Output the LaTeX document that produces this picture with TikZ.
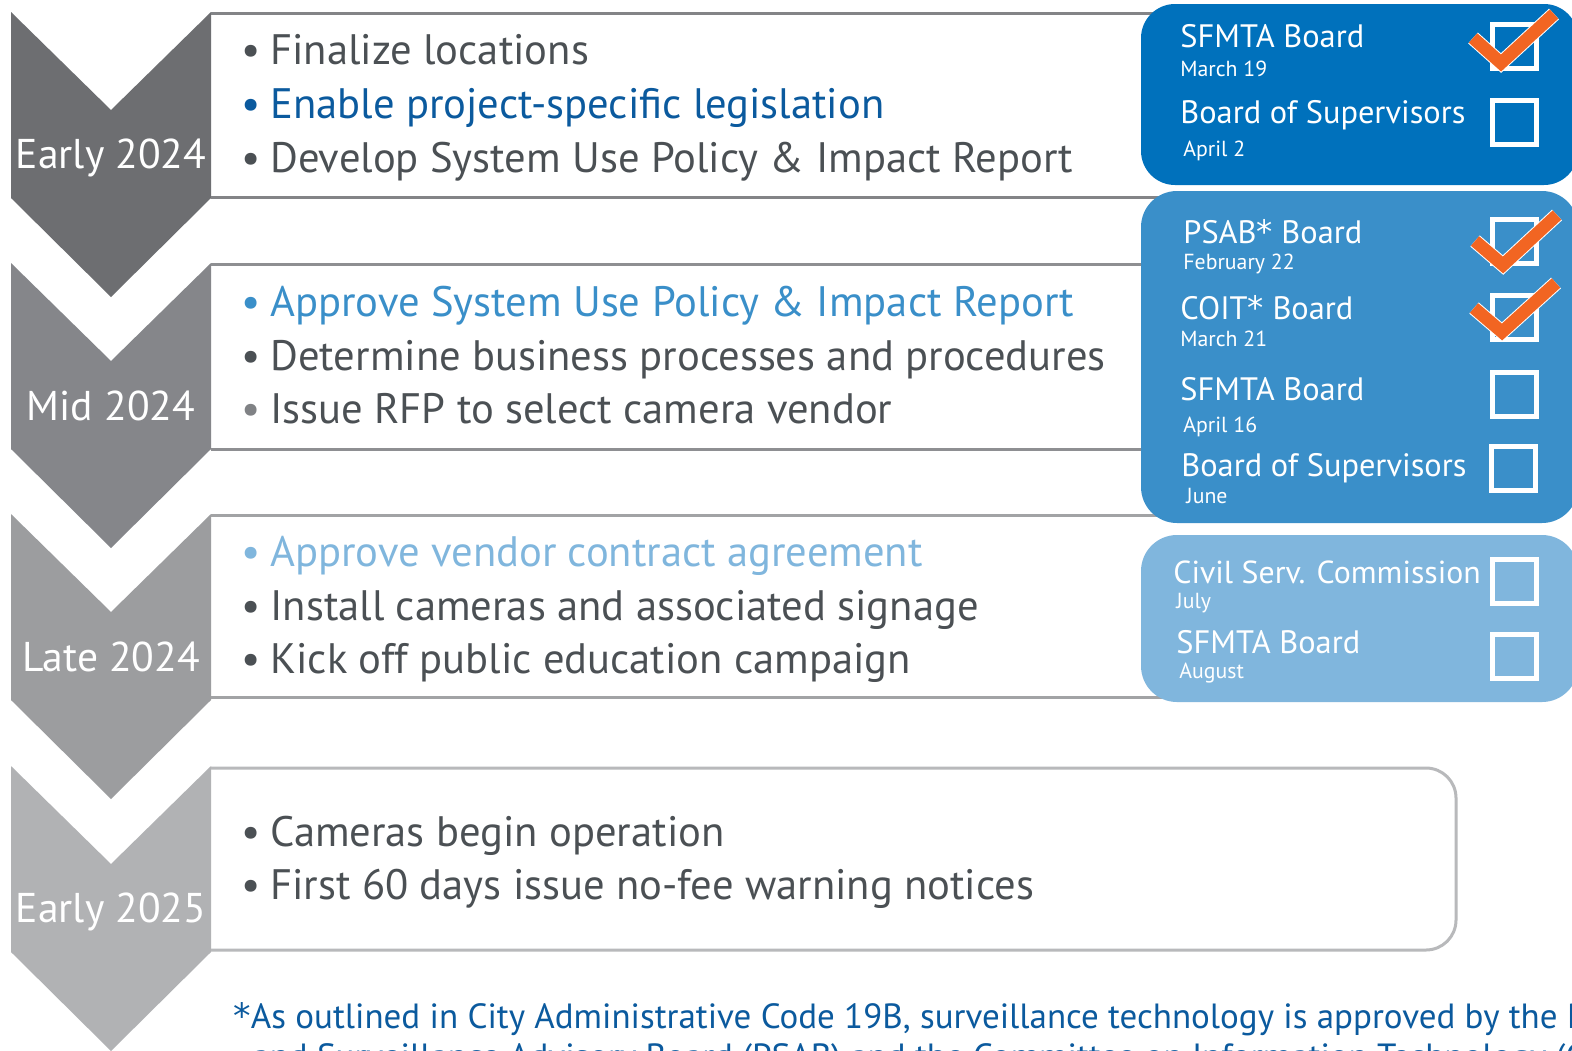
\documentclass[tikz,border=0pt]{standalone}
\usepackage{fontspec}
\setmainfont{PT Sans}
\newfontfamily\astfont{DejaVu Sans}
\definecolor{chevA}{HTML}{6D6E71}
\definecolor{chevB}{HTML}{85868A}
\definecolor{chevC}{HTML}{9C9D9F}
\definecolor{chevD}{HTML}{B1B2B4}
\definecolor{lineA}{HTML}{838487}
\definecolor{lineB}{HTML}{8E8F92}
\definecolor{lineC}{HTML}{A2A3A5}
\definecolor{lineD}{HTML}{B8B9BB}
\definecolor{blueA}{HTML}{0071BC}
\definecolor{blueB}{HTML}{3A8FC9}
\definecolor{blueC}{HTML}{80B6DD}
\definecolor{txtgray}{HTML}{4B5054}
\definecolor{bulgray}{HTML}{808285}
\definecolor{darkblue}{HTML}{0B5A9E}
\definecolor{tickorange}{HTML}{F26522}
\newcommand\bulletof[1]{\makebox[14.5pt][l]{\textcolor{#1}{•}}}
\newcommand\bigast{{\astfont *}}
\begin{document}
\begin{tikzpicture}[x=0.5pt,y=-0.5pt,
  bul/.style={anchor=base west, inner sep=0pt, font=\fontsize{21.3}{25}\selectfont, text=txtgray},
  lab/.style={anchor=base, inner sep=0pt, font=\fontsize{20.8}{25}\selectfont, text=white},
  btitle/.style={anchor=base west, inner sep=0pt, font=\fontsize{16.2}{19}\selectfont, text=white},
  bdate/.style={anchor=base west, inner sep=0pt, font=\fontsize{10.9}{13}\selectfont, text=white},
  cbox/.style={draw=white, line width=2.5pt, minimum size=22pt, inner sep=0pt},
  tick/.style={draw=tickorange, line width=6.3pt, line join=miter, line cap=butt,
    preaction={draw=white, line width=7.3pt, line join=miter, line cap=butt}},
  foot/.style={anchor=base west, inner sep=0pt, text=darkblue, font=\fontsize{17.5}{20}\selectfont},
  boxline/.style={line width=1.5pt}]
\useasboundingbox (0,0) rectangle (1572,1050);
\clip (0,0) rectangle (1572,1050);
\fill[white] (0,0) rectangle (1572,1050);

% chevrons
\foreach \yt/\col in {12/chevA,263/chevB,514/chevC,766/chevD} {
  \fill[\col] (11,\yt) -- (111,\yt+98) -- (211,\yt) -- (211,\yt+186) -- (111,\yt+285) -- (11,\yt+186) -- cycle;
}

% text box outlines
\draw[boxline, draw=lineA] (211,13) -- (1300,13);
\draw[boxline, draw=lineA] (211,197) -- (1300,197);
\draw[boxline, draw=lineB] (211,264) -- (1300,264);
\draw[boxline, draw=lineB] (211,449) -- (1300,449);
\draw[boxline, draw=lineC] (211,515) -- (1300,515);
\draw[boxline, draw=lineC] (211,697) -- (1300,697);
\draw[boxline, draw=lineD, rounded corners=15pt] (211,768) -- (1456,768) -- (1456,950) -- (211,950);

% blue boxes
\fill[blueA, rounded corners=17pt] (1141,4) rectangle (1578,185);
\fill[blueB, rounded corners=18pt] (1141,191) rectangle (1578,523);
\fill[blueC, rounded corners=18pt] (1141,535) rectangle (1578,702);

% chevron labels
\node[lab] (l1) at (111,168) {Early 2024};
\node[lab] (l2) at (111,420) {Mid 2024};
\node[lab] (l3) at (111,671) {Late 2024};
\node[lab] (l4) at (111,922) {Early 2025};

% bullets box 1
\node[bul] (a1) at (241,64) {\bulletof{txtgray}Finalize locations};
\node[bul, text=darkblue] (a2) at (241,118) {\bulletof{darkblue}Enable project-specific legislation};
\node[bul] (a3) at (241,172) {\bulletof{txtgray}Develop System Use Policy \& Impact Report};
% box 2
\node[bul, text=blueB] (b1) at (241,316) {\bulletof{blueB}Approve System Use Policy \& Impact Report};
\node[bul] (b2) at (241,370) {\bulletof{txtgray}Determine business processes and procedures};
\node[bul] (b3) at (241,423) {\bulletof{bulgray}Issue RFP to select camera vendor};
% box 3
\node[bul, text=blueC] (c1) at (241,566) {\bulletof{blueC}Approve vendor contract agreement};
\node[bul] (c2) at (241,620) {\bulletof{txtgray}Install cameras and associated signage};
\node[bul] (c3) at (241,673) {\bulletof{txtgray}Kick off public education campaign};
% box 4
\node[bul] (d1) at (241,846) {\bulletof{txtgray}Cameras begin operation};
\node[bul] (d2) at (241,899) {\bulletof{txtgray}First 60 days issue no-fee warning notices};

% blue box 1 texts
\node[btitle] (s1) at (1180,47) {SFMTA Board};
\node[bdate] (s1d) at (1180,76) {March 19};
\node[btitle] (s2) at (1180,123) {Board of Supervisors};
\node[bdate] (s2d) at (1183,156) {April 2};
% blue box 2 texts
\node[btitle] (p1) at (1183,243) {PSAB\bigast\ Board};
\node[bdate] (p1d) at (1183,269) {February 22};
\node[btitle] (p2) at (1180,319) {COIT\bigast\ Board};
\node[bdate] (p2d) at (1180,346) {March 21};
\node[btitle] (p3) at (1180,400) {SFMTA Board};
\node[bdate] (p3d) at (1183,432) {April 16};
\node[btitle] (p4) at (1181,476) {Board of Supervisors};
\node[bdate] (p4d) at (1186,503) {June};
% blue box 3 texts
\node[btitle, font=\fontsize{15.9}{19}\selectfont] (q1) at (1173,583) {Civil Serv. Commission};
\node[bdate] (q1d) at (1176,608) {July};
\node[btitle] (q2) at (1176,653) {SFMTA Board};
\node[bdate] (q2d) at (1179,678) {August};

% checkboxes
\node[cbox] (k1) at (1514.5,46.5) {};
\node[cbox] (k2) at (1514.5,122) {};
\node[cbox] (k3) at (1514,241) {};
\node[cbox] (k4) at (1514,317) {};
\node[cbox] (k5) at (1514,394) {};
\node[cbox] (k6) at (1513,468) {};
\node[cbox] (k7) at (1514,581) {};
\node[cbox] (k8) at (1514,656) {};

% ticks
\draw[tick] (1473,38) -- (1501,63) -- (1554,14);
\draw[tick] (1475,241) -- (1503,265) -- (1557,215);
\draw[tick] (1474,308) -- (1502,332) -- (1556,283);

% footnote
\node[foot] (f1) at (233,1028)
  {\bigast As outlined in City Administrative Code 19B, surveillance technology is approved by the Privacy};
\node[foot] (f2) at (252,1068)
  {and Surveillance Advisory Board (PSAB) and the Committee on Information Technology (COIT)};
\end{tikzpicture}
\end{document}
